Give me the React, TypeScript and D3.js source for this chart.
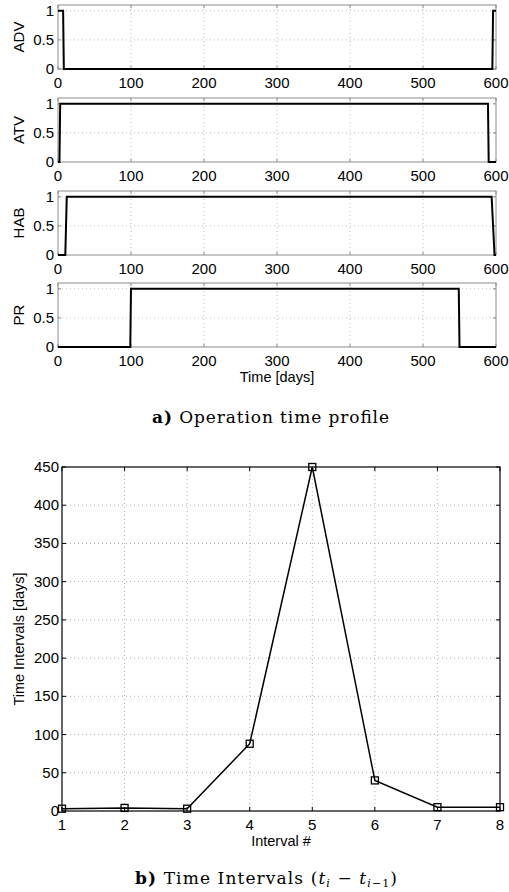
import React, { useEffect, useRef } from 'react';
import * as d3 from 'd3';

// operation profiles: breakpoints (days) and on/off values
const panelNames = ['ADV', 'ATV', 'HAB', 'PR'];
const advDays = [0, 7, 8, 595, 596, 600];
const advOn = [1, 1, 0, 0, 1, 1];
const atvDays = [0, 2, 3, 589, 590, 600];
const atvOn = [0, 0, 1, 1, 0, 0];
const habDays = [0, 10, 12, 594, 598, 600];
const habOn = [0, 0, 1, 1, 0, 0];
const prDays = [0, 99, 100, 549, 550, 600];
const prOn = [0, 0, 1, 1, 0, 0];

const dayTicks = [0, 100, 200, 300, 400, 500, 600];
const onTicks = [0, 0.5, 1];

// time intervals
const intervalNo = [1, 2, 3, 4, 5, 6, 7, 8];
const intervalDays = [3, 4, 3, 88, 450, 40, 5, 5];
const intervalTicks = [0, 50, 100, 150, 200, 250, 300, 350, 400, 450];

const W = 509, H = 892;
const sans = '"Liberation Sans", Arial, sans-serif';
const serif = '"DejaVu Serif", "Liberation Serif", serif';

const top = { left: 58, right: 496, tops: [5, 98, 191, 283], h: 64 };
const bot = { left: 62, right: 500, top: 467, bottom: 811 };

export default function App() {
    const ref = useRef<SVGSVGElement>(null);

    useEffect(() => {
        const svg = d3.select(ref.current);
        svg.selectAll('*').remove();

        const profiles = [
            [advDays, advOn], [atvDays, atvOn], [habDays, habOn], [prDays, prOn]
        ];

        const x = d3.scaleLinear().domain([0, 600]).range([top.left, top.right]);

        profiles.forEach(([days, on], k) => {
            const y0 = top.tops[k];
            const y = d3.scaleLinear().domain([0, 1.1]).range([y0 + top.h, y0]);
            const g = svg.append('g');

            // grid
            dayTicks.slice(1, -1).forEach(t => {
                g.append('line').attr('x1', x(t)).attr('x2', x(t))
                    .attr('y1', y0).attr('y2', y0 + top.h)
                    .attr('stroke', '#aaa').attr('stroke-width', 0.8)
                    .attr('stroke-dasharray', '1,3');
            });
            onTicks.slice(1).forEach(t => {
                g.append('line').attr('x1', top.left).attr('x2', top.right)
                    .attr('y1', y(t)).attr('y2', y(t))
                    .attr('stroke', '#aaa').attr('stroke-width', 0.8)
                    .attr('stroke-dasharray', '1,3');
            });

            // inner ticks
            dayTicks.forEach(t => {
                g.append('line').attr('x1', x(t)).attr('x2', x(t))
                    .attr('y1', y0 + top.h).attr('y2', y0 + top.h - 3)
                    .attr('stroke', '#888');
                g.append('line').attr('x1', x(t)).attr('x2', x(t))
                    .attr('y1', y0).attr('y2', y0 + 3)
                    .attr('stroke', '#888');
            });
            onTicks.forEach(t => {
                g.append('line').attr('x1', top.left).attr('x2', top.left + 3)
                    .attr('y1', y(t)).attr('y2', y(t)).attr('stroke', '#888');
                g.append('line').attr('x1', top.right).attr('x2', top.right - 3)
                    .attr('y1', y(t)).attr('y2', y(t)).attr('stroke', '#888');
            });

            g.append('rect').attr('x', top.left).attr('y', y0)
                .attr('width', top.right - top.left).attr('height', top.h)
                .attr('fill', 'none').attr('stroke', '#8c8c8c').attr('stroke-width', 1);

            const pts = days.map((d, i) => [d, on[i]] as [number, number]);
            g.append('path')
                .attr('d', d3.line<[number, number]>().x(d => x(d[0])).y(d => y(d[1]))(pts))
                .attr('fill', 'none').attr('stroke', '#000').attr('stroke-width', 2);

            // labels
            dayTicks.forEach(t => {
                g.append('text').attr('x', x(t)).attr('y', y0 + top.h + 19)
                    .attr('text-anchor', 'middle').attr('font-family', sans)
                    .attr('font-size', 15).text(t);
            });
            onTicks.forEach(t => {
                g.append('text').attr('x', top.left - 4).attr('y', y(t) + 5)
                    .attr('text-anchor', 'end').attr('font-family', sans)
                    .attr('font-size', 15).text(t);
            });
            g.append('text')
                .attr('transform', `translate(24,${y0 + top.h / 2}) rotate(-90)`)
                .attr('text-anchor', 'middle').attr('font-family', sans)
                .attr('font-size', 15).text(panelNames[k]);
        });

        svg.append('text').attr('x', (top.left + top.right) / 2).attr('y', 382)
            .attr('text-anchor', 'middle').attr('font-family', sans)
            .attr('font-size', 14.5).text('Time [days]');

        const capA = svg.append('text').attr('x', 152).attr('y', 423)
            .attr('font-family', serif).attr('font-size', 17)
            .attr('textLength', 237).attr('lengthAdjust', 'spacing');
        capA.append('tspan').attr('font-weight', 'bold').text('a)');
        capA.append('tspan').text(' Operation time profile');

        // bottom chart
        const bx = d3.scaleLinear().domain([1, 8]).range([bot.left, bot.right]);
        const by = d3.scaleLinear().domain([0, 450]).range([bot.bottom, bot.top]);
        const gb = svg.append('g');

        intervalNo.slice(1, -1).forEach(t => {
            gb.append('line').attr('x1', bx(t)).attr('x2', bx(t))
                .attr('y1', bot.top).attr('y2', bot.bottom)
                .attr('stroke', '#999').attr('stroke-width', 0.8)
                .attr('stroke-dasharray', '1,3');
        });
        intervalTicks.slice(1, -1).forEach(t => {
            gb.append('line').attr('x1', bot.left).attr('x2', bot.right)
                .attr('y1', by(t)).attr('y2', by(t))
                .attr('stroke', '#999').attr('stroke-width', 0.8)
                .attr('stroke-dasharray', '1,3');
        });
        intervalNo.forEach(t => {
            gb.append('line').attr('x1', bx(t)).attr('x2', bx(t))
                .attr('y1', bot.bottom).attr('y2', bot.bottom - 4).attr('stroke', '#000');
            gb.append('line').attr('x1', bx(t)).attr('x2', bx(t))
                .attr('y1', bot.top).attr('y2', bot.top + 4).attr('stroke', '#000');
            gb.append('text').attr('x', bx(t)).attr('y', bot.bottom + 19)
                .attr('text-anchor', 'middle').attr('font-family', sans)
                .attr('font-size', 15).text(t);
        });
        intervalTicks.forEach(t => {
            gb.append('line').attr('x1', bot.left).attr('x2', bot.left + 4)
                .attr('y1', by(t)).attr('y2', by(t)).attr('stroke', '#000');
            gb.append('line').attr('x1', bot.right).attr('x2', bot.right - 4)
                .attr('y1', by(t)).attr('y2', by(t)).attr('stroke', '#000');
            gb.append('text').attr('x', bot.left - 3).attr('y', by(t) + 5)
                .attr('text-anchor', 'end').attr('font-family', sans)
                .attr('font-size', 15).text(t);
        });
        gb.append('rect').attr('x', bot.left).attr('y', bot.top)
            .attr('width', bot.right - bot.left).attr('height', bot.bottom - bot.top)
            .attr('fill', 'none').attr('stroke', '#000').attr('stroke-width', 1.2);

        const ipts = intervalNo.map((n, i) => [n, intervalDays[i]] as [number, number]);
        gb.append('path')
            .attr('d', d3.line<[number, number]>().x(d => bx(d[0])).y(d => by(d[1]))(ipts))
            .attr('fill', 'none').attr('stroke', '#000').attr('stroke-width', 1.5);
        gb.selectAll('.mk').data(ipts).enter().append('rect')
            .attr('x', d => bx(d[0]) - 3.5).attr('y', d => by(d[1]) - 3.5)
            .attr('width', 7).attr('height', 7)
            .attr('fill', 'none').attr('stroke', '#000').attr('stroke-width', 1.3);

        gb.append('text').attr('x', (bot.left + bot.right) / 2).attr('y', bot.bottom + 35)
            .attr('text-anchor', 'middle').attr('font-family', sans)
            .attr('font-size', 14.5).text('Interval #');
        gb.append('text')
            .attr('transform', `translate(24,${(bot.top + bot.bottom) / 2}) rotate(-90)`)
            .attr('text-anchor', 'middle').attr('font-family', sans)
            .attr('font-size', 14.5).text('Time Intervals [days]');

        const capB = svg.append('text').attr('x', 135).attr('y', 884)
            .attr('font-family', serif).attr('font-size', 17)
            .attr('textLength', 262).attr('lengthAdjust', 'spacing');
        capB.append('tspan').attr('font-weight', 'bold').text('b)');
        capB.append('tspan').text(' Time Intervals (');
        capB.append('tspan').attr('font-style', 'italic').text('t');
        capB.append('tspan').attr('font-style', 'italic').attr('font-size', 11).attr('dy', 2.5).text('i');
        capB.append('tspan').attr('dy', -2.5).text(' − ');
        capB.append('tspan').attr('font-style', 'italic').text('t');
        capB.append('tspan').attr('font-style', 'italic').attr('font-size', 11).attr('dy', 2.5).text('i');
        capB.append('tspan').attr('font-size', 11).text('−1');
        capB.append('tspan').attr('dy', -2.5).text(')');
    }, []);

    return (
        <svg ref={ref} width={W} height={H}
            style={{ position: 'absolute', left: 0, top: 0, background: '#fff' }} />
    );
}
